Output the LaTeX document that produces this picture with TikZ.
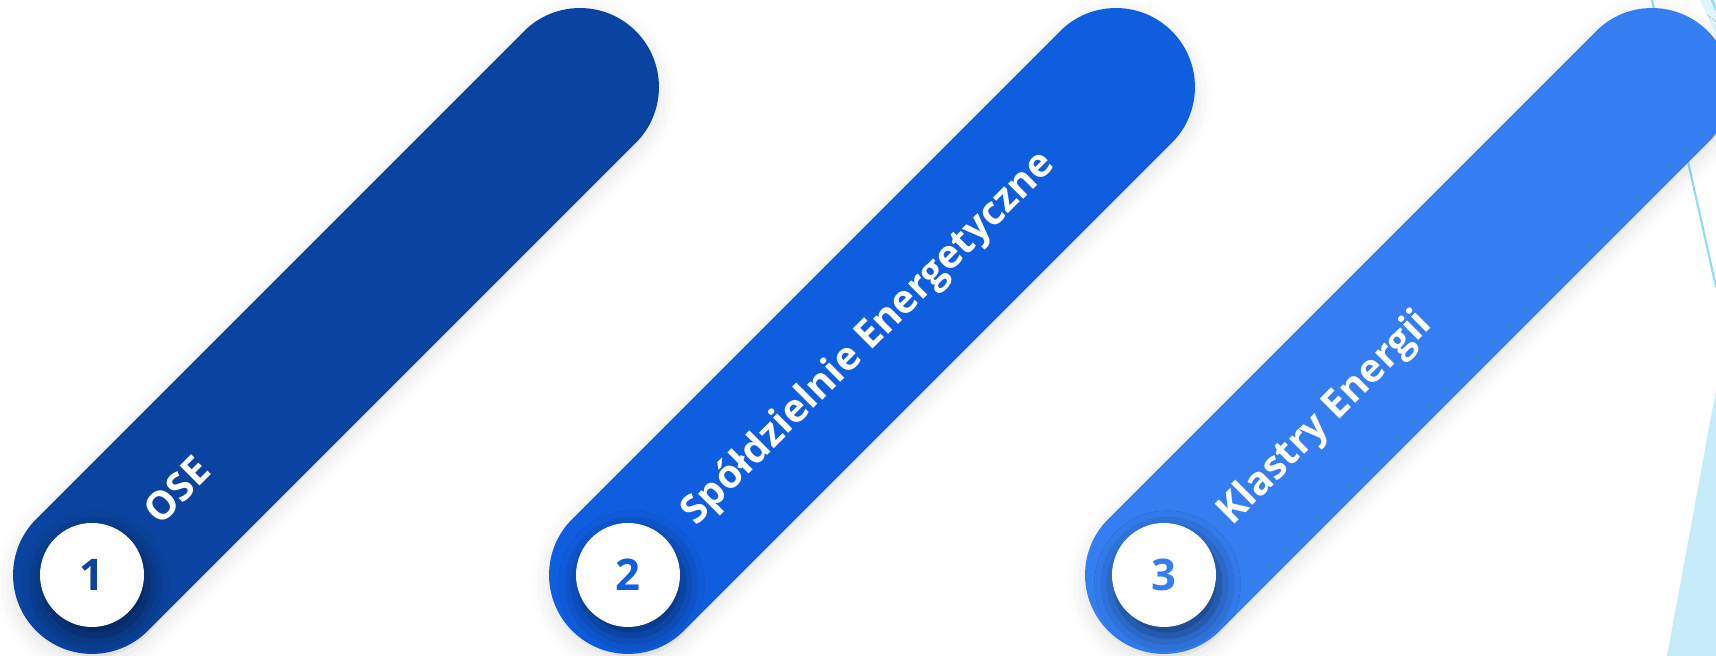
\documentclass[tikz,border=0pt]{standalone}
\usepackage{fontspec}
\setmainfont{Open Sans}
\usepackage{tikz}
\usetikzlibrary{shapes.misc,shadows.blur,calc}

\definecolor{navyband}{HTML}{0B44A0}
\definecolor{midband}{HTML}{105EE0}
\definecolor{skyband}{HTML}{347EF2}
\definecolor{paleline}{HTML}{8EDCF2}
\definecolor{palefill}{HTML}{C7EBF8}
\definecolor{paletop}{HTML}{DFF4FB}

\tikzset{
  band/.style={rounded rectangle, rotate=45, minimum width=8.48cm, minimum height=1.58cm, inner sep=0pt,
    blur shadow={shadow xshift=0pt, shadow yshift=-2pt, shadow blur radius=5pt, shadow opacity=12}},
  badge/.style={circle, fill=white, minimum size=1.04cm, inner sep=0pt, font=\fontsize{12.4}{14}\selectfont\bfseries,
    blur shadow={shadow xshift=1pt, shadow yshift=-2.5pt, shadow blur radius=6pt, shadow opacity=55}},
  caption/.style={rotate=45, anchor=base west, inner sep=0pt, text=white, font=\fontsize{11.2}{13}\selectfont\bfseries}
}

\begin{document}
\begin{tikzpicture}

        \useasboundingbox (0,0) rectangle (17.16,6.56);

        % pale strokes at the right border
        \fill [palefill] (16.67,0) -- (17.16,2.66) -- (17.16,0) -- cycle;
        \fill [paletop] (17.00,6.56) -- (17.16,6.56) -- (17.16,6.21) -- cycle;
        \draw [paleline, line width=0.6pt] (17.12,6.56) -- (17.16,6.46);
        \draw [paleline, line width=0.6pt] (16.52,6.56) -- (17.16,3.69);

        % the three bands
        \node [band, fill=navyband] (band1) at (3.36,3.25) {};
        \node [band, fill=midband] (band2) at (8.72,3.25) {};
        \node [band, fill=skyband] (band3) at (14.08,3.25) {};

        % numbered badges
        \node [badge, text=navyband] (badge1) at (0.92,0.81) {1};
        \node [badge, text=midband] (badge2) at (6.28,0.81) {2};
        \node [badge, text=skyband] (badge3) at (11.64,0.81) {3};

        % captions along the bands
        \node [caption] (caption1) at ($(badge1)+(45:0.82)+(-45:0.14)$) {OSE};
        \node [caption] (caption2) at ($(badge2)+(45:0.82)+(-45:0.14)$) {Spółdzielnie Energetyczne};
        \node [caption] (caption3) at ($(badge3)+(45:0.82)+(-45:0.14)$) {Klastry Energii};

\end{tikzpicture}
\end{document}
